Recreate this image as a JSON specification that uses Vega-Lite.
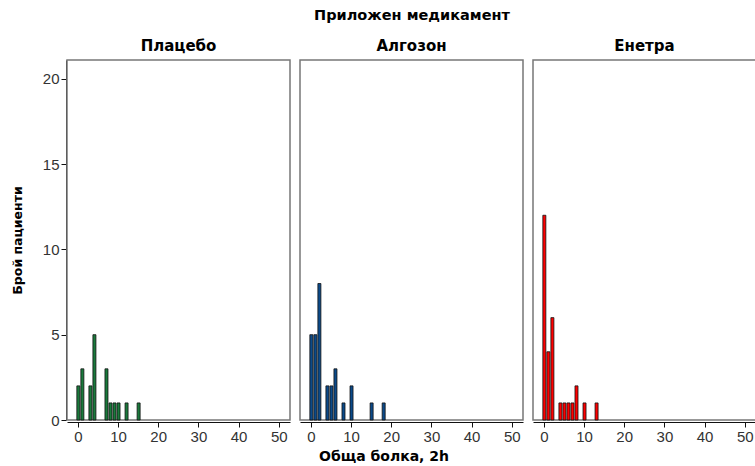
{
  "$schema": "https://vega.github.io/schema/vega-lite/v6.json",
  "padding": {"left": 11, "top": 7, "right": 0, "bottom": 0},
  "background": "white",
  "data": {"values": [
    {"drug": "Плацебо", "lo": -0.5, "hi": 0.5, "count": 2},
    {"drug": "Плацебо", "lo": 0.5, "hi": 1.5, "count": 3},
    {"drug": "Плацебо", "lo": 2.5, "hi": 3.5, "count": 2},
    {"drug": "Плацебо", "lo": 3.5, "hi": 4.5, "count": 5},
    {"drug": "Плацебо", "lo": 6.5, "hi": 7.5, "count": 3},
    {"drug": "Плацебо", "lo": 7.5, "hi": 8.5, "count": 1},
    {"drug": "Плацебо", "lo": 8.5, "hi": 9.5, "count": 1},
    {"drug": "Плацебо", "lo": 9.5, "hi": 10.5, "count": 1},
    {"drug": "Плацебо", "lo": 11.5, "hi": 12.5, "count": 1},
    {"drug": "Плацебо", "lo": 14.5, "hi": 15.5, "count": 1},
    {"drug": "Алгозон", "lo": -0.5, "hi": 0.5, "count": 5},
    {"drug": "Алгозон", "lo": 0.5, "hi": 1.5, "count": 5},
    {"drug": "Алгозон", "lo": 1.5, "hi": 2.5, "count": 8},
    {"drug": "Алгозон", "lo": 3.5, "hi": 4.5, "count": 2},
    {"drug": "Алгозон", "lo": 4.5, "hi": 5.5, "count": 2},
    {"drug": "Алгозон", "lo": 5.5, "hi": 6.5, "count": 3},
    {"drug": "Алгозон", "lo": 7.5, "hi": 8.5, "count": 1},
    {"drug": "Алгозон", "lo": 9.5, "hi": 10.5, "count": 2},
    {"drug": "Алгозон", "lo": 14.5, "hi": 15.5, "count": 1},
    {"drug": "Алгозон", "lo": 17.5, "hi": 18.5, "count": 1},
    {"drug": "Енетра", "lo": -0.5, "hi": 0.5, "count": 12},
    {"drug": "Енетра", "lo": 0.5, "hi": 1.5, "count": 4},
    {"drug": "Енетра", "lo": 1.5, "hi": 2.5, "count": 6},
    {"drug": "Енетра", "lo": 3.5, "hi": 4.5, "count": 1},
    {"drug": "Енетра", "lo": 4.5, "hi": 5.5, "count": 1},
    {"drug": "Енетра", "lo": 5.5, "hi": 6.5, "count": 1},
    {"drug": "Енетра", "lo": 6.5, "hi": 7.5, "count": 1},
    {"drug": "Енетра", "lo": 7.5, "hi": 8.5, "count": 2},
    {"drug": "Енетра", "lo": 9.5, "hi": 10.5, "count": 1},
    {"drug": "Енетра", "lo": 12.5, "hi": 13.5, "count": 1}
  ]},
  "title": {"text": "Обща болка, 2h", "orient": "bottom", "anchor": "middle", "font": "DejaVu Sans", "fontSize": 14, "fontWeight": "bold", "color": "#000", "offset": 6},
  "facet": {
    "column": {
      "field": "drug", "type": "nominal",
      "sort": ["Плацебо", "Алгозон", "Енетра"],
      "header": {
        "title": "Приложен медикамент",
        "titleFont": "DejaVu Sans", "titleFontSize": 14.5, "titleFontWeight": "bold", "titleColor": "#000", "titlePadding": 6,
        "labelFont": "DejaVu Sans", "labelFontSize": 15, "labelFontWeight": "bold", "labelColor": "#000", "labelPadding": 5
      }
    }
  },
  "spacing": 8,
  "spec": {
    "width": 223,
    "height": 360,
    "mark": {"type": "bar", "stroke": "#111", "strokeWidth": 0.8},
    "encoding": {
      "x": {"field": "lo", "type": "quantitative", "bin": "binned",
        "scale": {"domain": [-2.7, 52.8], "nice": false, "zero": false},
        "axis": {"title": null, "values": [0, 10, 20, 30, 40, 50], "format": "d", "grid": false}},
      "x2": {"field": "hi"},
      "y": {"field": "count", "type": "quantitative",
        "scale": {"domain": [0, 21.1], "nice": false},
        "axis": {"title": "Брой пациенти", "titleFontSize": 12.5, "titlePadding": 18, "values": [0, 5, 10, 15, 20], "grid": false}},
      "color": {"field": "drug", "type": "nominal", "legend": null,
        "scale": {"domain": ["Плацебо", "Алгозон", "Енетра"], "range": ["#1a7a3c", "#0b4a8a", "#ff0000"]}}
    }
  },
  "config": {
    "view": {"stroke": "#777", "strokeWidth": 1.5},
    "axis": {
      "domainColor": "#111", "tickColor": "#111", "tickSize": 5,
      "labelFont": "Liberation Sans", "labelFontSize": 15, "labelColor": "#333",
      "titleFont": "DejaVu Sans", "titleFontSize": 13, "titleFontWeight": "bold", "titleColor": "#000"
    }
  }
}
